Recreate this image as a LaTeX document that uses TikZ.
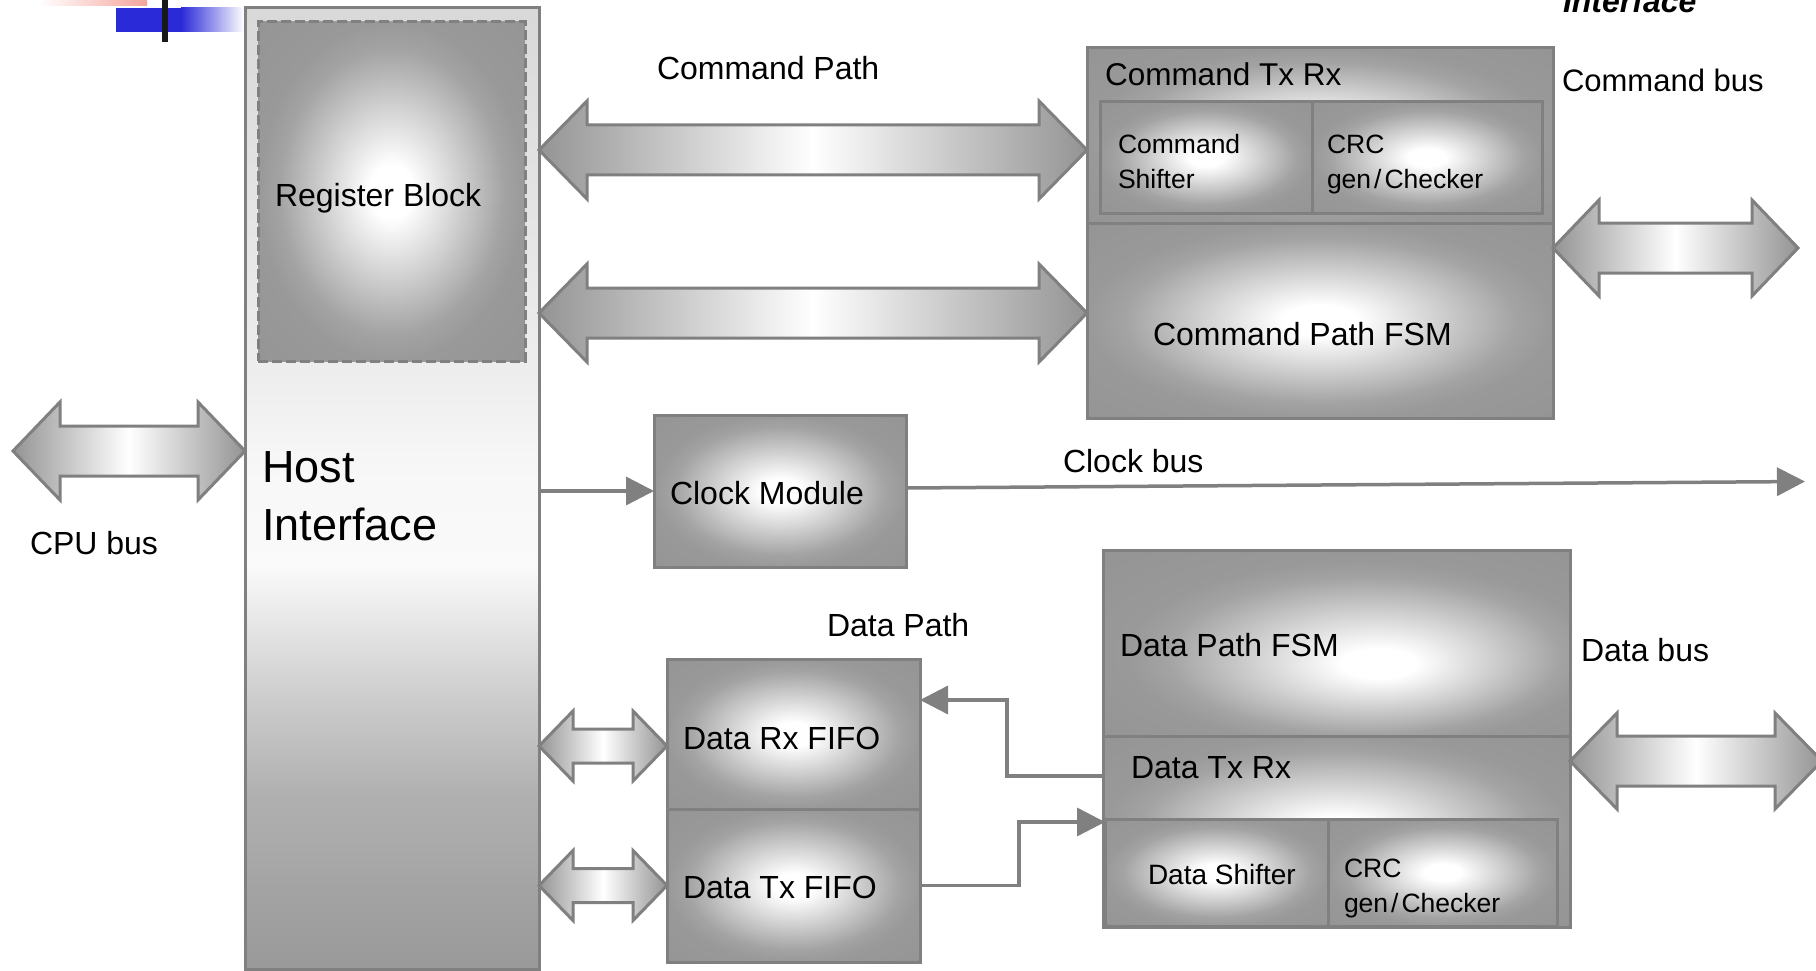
\documentclass[tikz,border=0pt]{standalone}
\usepackage{fontspec}
\setmainfont{Liberation Sans}
\usetikzlibrary{calc,arrows.meta}

\definecolor{edge}{HTML}{808080}
\definecolor{logoblue}{HTML}{2A2AD8}
\definecolor{logopink}{HTML}{F4A49C}

\pgfdeclareradialshading{boxshade}{\pgfpointorigin}{color(0bp)=(white); color(4bp)=(white); color(21bp)=(black!36); color(25bp)=(black!40); color(50bp)=(black!44)}
\pgfdeclareradialshading{boxshadeoff}{\pgfpoint{5bp}{-6bp}}{color(0bp)=(white); color(4bp)=(white); color(21bp)=(black!36); color(25bp)=(black!40); color(50bp)=(black!44)}
\pgfdeclareverticalshading{hostshade}{100bp}{color(0bp)=(black!40); color(25bp)=(black!40); color(34bp)=(black!31); color(39bp)=(black!20); color(46bp)=(black!2); color(51bp)=(black!3); color(56bp)=(black!7); color(75bp)=(black!15); color(100bp)=(black!15)}

% double-headed block arrow between two named points
\newcommand\blockarrow[5]{%
  \path[barrow] let \p1=(#1), \p2=(#2) in
    (\x1,\y1) -- (\x1+#5pt,\y1+#4pt) -- (\x1+#5pt,\y1+#3pt) -- (\x2-#5pt,\y1+#3pt)
    -- (\x2-#5pt,\y1+#4pt) -- (\x2,\y1) -- (\x2-#5pt,\y1-#4pt) -- (\x2-#5pt,\y1-#3pt)
    -- (\x1+#5pt,\y1-#3pt) -- (\x1+#5pt,\y1-#4pt) -- cycle;}

\begin{document}
\begin{tikzpicture}[x=1pt,y=-1pt,
  box/.style={draw=edge, line width=3pt, shade, shading=boxshade, anchor=north west, inner sep=0pt, outer sep=0pt},
  barrow/.style={draw=edge, line width=3pt, left color=black!42, right color=black!42, middle color=white},
  conn/.style={draw=edge, line width=3.5pt, -{Triangle[length=28pt,width=28pt]}},
  lbl/.style={anchor=base west, inner sep=0pt, outer sep=0pt, font=\fontsize{32}{38}\selectfont},
  smalllbl/.style={lbl, font=\fontsize{26.5}{32}\selectfont}]

\useasboundingbox (0,0) rectangle (1816,971);
\fill[white] (0,0) rectangle (1816,971);

% logo fragment (top left)
\shade[left color=white, right color=logopink] (40,-5) rectangle (147,6);
\fill[logoblue] (116,8) rectangle (182,32);
\shade[left color=logoblue, right color=white] (181,8) rectangle (244,32);
\fill[black!90] (162,-3) rectangle (168,42);

% blocks
\node[box, shading=hostshade, minimum width=294pt, minimum height=961pt] (host) at (245,8) {};
\node[box, dash pattern=on 10pt off 4pt, minimum width=267pt, minimum height=339pt] (regblk) at (258,22) {};

\node[box, minimum width=466pt, minimum height=175pt] (cmdtop) at (1087,48) {};
\node[box, minimum width=466pt, minimum height=195pt] (cmdfsm) at (1087,223) {};
\node[box, minimum width=212pt, minimum height=111pt] (cmdshift) at (1100,102) {};
\node[box, minimum width=230pt, minimum height=111pt] (cmdcrc) at (1312,102) {};

\node[box, minimum width=252pt, minimum height=152pt] (clock) at (654,415) {};

\node[box, minimum width=253pt, minimum height=150pt] (rxfifo) at (667,659) {};
\node[box, minimum width=253pt, minimum height=153pt] (txfifo) at (667,809) {};

\node[box, shading=boxshadeoff, minimum width=467pt, minimum height=186pt] (dfsm) at (1103,550) {};
\node[box, minimum width=467pt, minimum height=191pt] (dtxrx) at (1103,736) {};
\node[box, minimum width=223pt, minimum height=107pt] (dshift) at (1105,819) {};
\node[box, minimum width=229pt, minimum height=107pt] (dcrc) at (1328,819) {};

% free ends
\coordinate (cpuL) at (13,451);
\coordinate (cbR) at (1798,248);
\coordinate (dbR) at (1822,761);
\coordinate (clkEnd) at (1805,481.5);

% block arrows
\blockarrow{cpuL}{host.west |- 0,451}{25}{49}{47}
\blockarrow{host.east |- 0,150}{cmdtop.west |- 0,150}{25}{49}{48}
\blockarrow{host.east |- 0,313}{cmdfsm.west |- 0,313}{25}{49}{48}
\blockarrow{cmdfsm.east |- 0,248}{cbR}{25}{48}{46}
\blockarrow{host.east |- 0,746}{rxfifo.west |- 0,746}{17}{35}{34}
\blockarrow{host.east |- txfifo.west}{txfifo.west}{17}{35}{34}
\blockarrow{dtxrx.east |- 0,761}{dbR}{25}{48}{47}

% thin connectors
\draw[conn] (host.east |- clock.west) -- (clock.west);
\draw[conn] (clock.east |- 0,488) -- (clkEnd);
\draw[conn] (dtxrx.west |- 0,776) -- (1007,776) -- (1007,700) -- (rxfifo.east |- 0,700);
\draw[conn] (txfifo.east) -- (1019,885.5) -- (1019,822) -- (dshift.west |- 0,822);

% labels
\node[lbl] (tCmdPath) at (657,80) {Command Path};
\node[lbl] (tReg) at (275,207) {Register Block};
\node[lbl, font=\fontsize{45}{54}\selectfont] (tHost) at (262,482) {Host};
\node[lbl, font=\fontsize{45}{54}\selectfont] (tIface) at (262,540) {Interface};
\node[lbl] (tCpu) at (30,554) {CPU bus};
\node[lbl, font=\fontsize{31.5}{38}\selectfont] (tCmdTx) at (1105,86) {Command Tx Rx};
\node[smalllbl] (tCmdSh1) at (1118,154) {Command};
\node[smalllbl] (tCmdSh2) at (1118,189) {Shifter};
\node[smalllbl] (tCrc1) at (1327,154) {CRC};
\node[smalllbl] (tCrc2) at (1327,189) {gen\kern3pt/\kern3pt Checker};
\node[lbl] (tCmdFsm) at (1153,345) {Command Path FSM};
\node[lbl, font=\fontsize{31}{38}\selectfont] (tCmdBus) at (1562,92) {Command bus};
\node[lbl] (tClock) at (670,504) {Clock Module};
\node[lbl] (tClkBus) at (1063,472) {Clock bus};
\node[lbl] (tDataPath) at (827,636) {Data Path};
\node[lbl] (tRx) at (683,749) {Data Rx FIFO};
\node[lbl] (tTx) at (683,898) {Data Tx FIFO};
\node[lbl] (tDFsm) at (1120,656) {Data Path FSM};
\node[lbl] (tDBus) at (1581,661) {Data bus};
\node[lbl] (tDTx) at (1131,778) {Data Tx Rx};
\node[lbl, font=\fontsize{28}{34}\selectfont] (tDSh) at (1148,884) {Data Shifter};
\node[smalllbl] (tDCrc1) at (1344,877) {CRC};
\node[smalllbl] (tDCrc2) at (1344,912) {gen\kern3pt/\kern3pt Checker};
\node[lbl, font=\fontsize{32}{38}\selectfont\bfseries\itshape] (tTopIface) at (1563,13) {Interface};
\end{tikzpicture}
\end{document}
